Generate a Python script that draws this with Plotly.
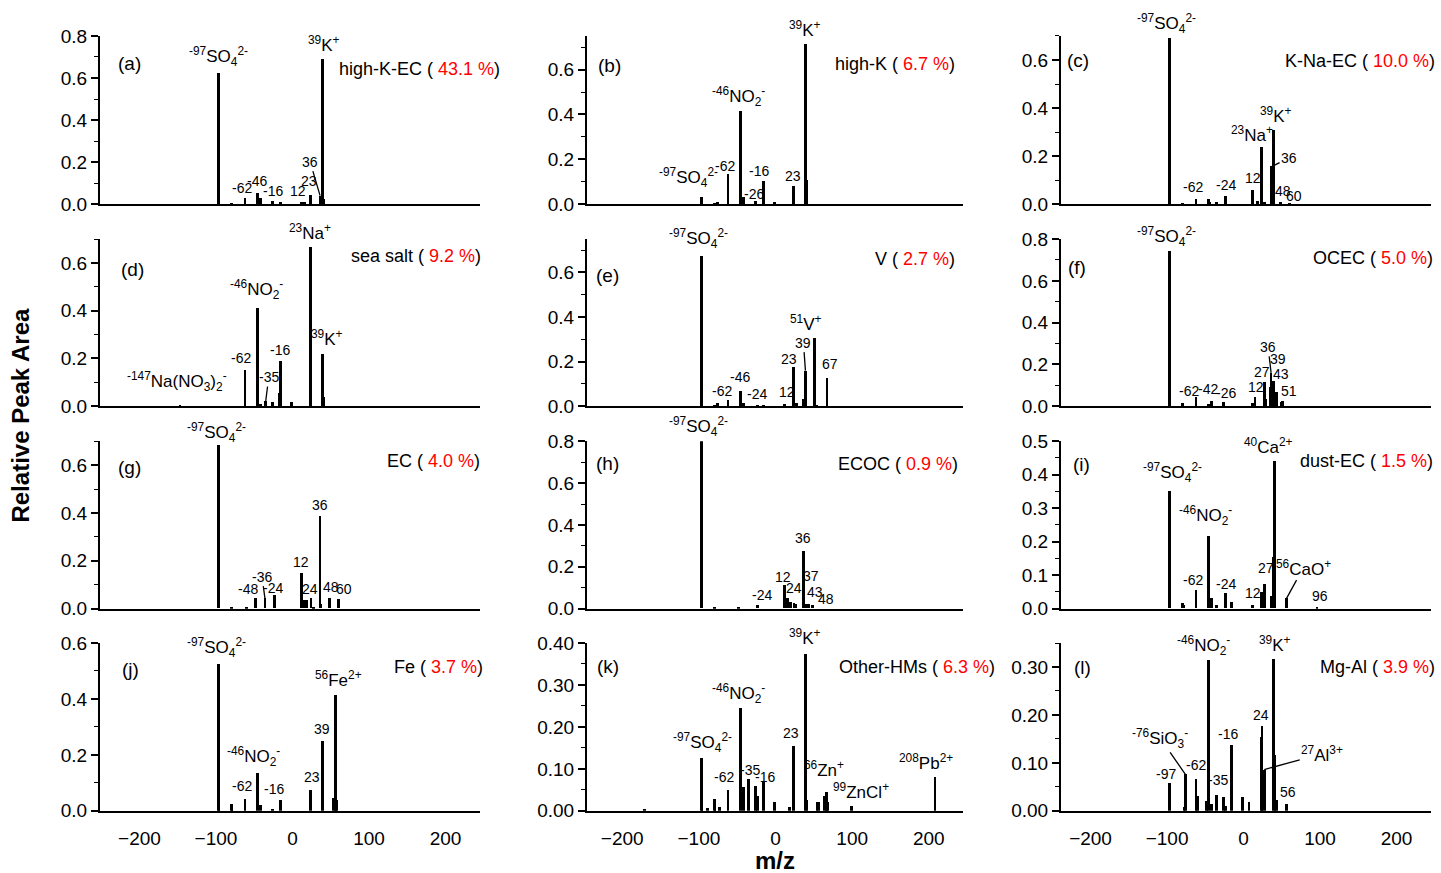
import plotly.graph_objects as go

# ---------------- data (m/z, relative peak area) ----------------
mz_a = [-97, -96, -80, -62, -46, -42, -26, -16, 12, 16, 23, 24, 36, 37, 39, 41]
int_a = [0.626, 0.02, 0.004, 0.027, 0.055, 0.03, 0.016, 0.01, 0.01, 0.012, 0.044, 0.012, 0.04, 0.03, 0.69, 0.025]

mz_b = [-97, -80, -76, -62, -46, -42, -26, -16, -1, 23, 39, 41]
int_b = [0.03, 0.005, 0.008, 0.134, 0.415, 0.03, 0.015, 0.105, 0.01, 0.079, 0.716, 0.107]

mz_c = [-97, -96, -80, -62, -46, -45, -35, -24, 12, 18, 23, 27, 36, 37, 38, 39, 48, 60]
int_c = [0.69, 0.035, 0.006, 0.021, 0.02, 0.01, 0.01, 0.035, 0.06, 0.012, 0.236, 0.01, 0.155, 0.16, 0.14, 0.31, 0.01, 0.005]

mz_d = [-147, -62, -46, -42, -35, -26, -17, -16, -1, 23, 39, 41]
int_d = [0.007, 0.153, 0.41, 0.01, 0.022, 0.017, 0.054, 0.188, 0.017, 0.666, 0.219, 0.04]

mz_e = [-97, -96, -80, -76, -62, -46, -42, -24, -16, 12, 23, 27, 36, 39, 51, 53, 67]
int_e = [0.675, 0.025, 0.007, 0.013, 0.03, 0.067, 0.013, 0.004, 0.005, 0.01, 0.175, 0.013, 0.033, 0.16, 0.306, 0.004, 0.125]

mz_f = [-97, -96, -80, -62, -46, -42, -26, 12, 15, 27, 29, 35, 36, 38, 39, 41, 43, 50, 51]
int_f = [0.744, 0.02, 0.014, 0.046, 0.011, 0.027, 0.019, 0.014, 0.043, 0.115, 0.035, 0.09, 0.16, 0.05, 0.12, 0.03, 0.07, 0.02, 0.025]

mz_g = [-97, -96, -80, -60, -48, -36, -24, 12, 16, 18, 24, 27, 36, 37, 48, 60]
int_g = [0.684, 0.03, 0.003, 0.007, 0.042, 0.042, 0.056, 0.149, 0.035, 0.035, 0.042, 0.008, 0.386, 0.02, 0.045, 0.038]

mz_h = [-97, -96, -80, -48, -24, 12, 16, 20, 24, 26, 36, 37, 39, 43, 48]
int_h = [0.80, 0.035, 0.005, 0.005, 0.015, 0.114, 0.05, 0.03, 0.028, 0.02, 0.276, 0.098, 0.02, 0.02, 0.015]

mz_i = [-97, -80, -78, -62, -46, -42, -35, -24, -16, 12, 23, 24, 27, 36, 39, 40, 41, 56, 96]
int_i = [0.35, 0.017, 0.01, 0.055, 0.217, 0.03, 0.01, 0.045, 0.018, 0.01, 0.05, 0.05, 0.073, 0.037, 0.154, 0.44, 0.01, 0.03, 0.002]

mz_j = [-97, -96, -80, -79, -62, -46, -42, -26, -16, 23, 39, 54, 56, 57]
int_j = [0.526, 0.015, 0.026, 0.02, 0.044, 0.137, 0.02, 0.007, 0.04, 0.076, 0.249, 0.046, 0.413, 0.04]

mz_k = [-171, -97, -96, -89, -80, -79, -73, -62, -46, -42, -35, -26, -24, -16, -1, 18, 23, 39, 41, 54, 56, 64, 66, 68, 99, 208]
int_k = [0.002, 0.127, 0.02, 0.006, 0.029, 0.025, 0.008, 0.05, 0.244, 0.057, 0.075, 0.06, 0.035, 0.071, 0.021, 0.008, 0.154, 0.373, 0.025, 0.02, 0.022, 0.035, 0.045, 0.02, 0.012, 0.081]

mz_l = [-97, -78, -76, -62, -60, -48, -46, -42, -35, -26, -24, -16, -1, 7, 23, 24, 27, 39, 41, 43, 56]
int_l = [0.057, 0.008, 0.076, 0.067, 0.03, 0.02, 0.315, 0.015, 0.033, 0.029, 0.01, 0.137, 0.029, 0.019, 0.155, 0.176, 0.086, 0.317, 0.116, 0.022, 0.014]

panel_letters = ["a", "b", "c", "d", "e", "f", "g", "h", "i", "j", "k", "l"]
class_names = ["high-K-EC", "high-K", "K-Na-EC", "sea salt", "V", "OCEC",
               "EC", "ECOC", "dust-EC", "Fe", "Other-HMs", "Mg-Al"]
class_percent = ["43.1", "6.7", "10.0", "9.2", "2.7", "5.0", "4.0", "0.9", "1.5", "3.7", "6.3", "3.9"]
y_max = [0.8, 0.75, 0.7, 0.7, 0.75, 0.8, 0.7, 0.8, 0.5, 0.6, 0.4, 0.35]
y_major = [0.2, 0.2, 0.2, 0.2, 0.2, 0.2, 0.2, 0.2, 0.1, 0.2, 0.1, 0.1]
y_minor = [0.1, 0.1, 0.1, 0.1, 0.1, 0.1, 0.1, 0.1, 0.05, 0.1, 0.05, 0.05]
y_fmt = [".1f"] * 10 + [".2f"] * 2
x_ticks = [-200, -100, 0, 100, 200]

MZ = [mz_a, mz_b, mz_c, mz_d, mz_e, mz_f, mz_g, mz_h, mz_i, mz_j, mz_k, mz_l]
INT = [int_a, int_b, int_c, int_d, int_e, int_f, int_g, int_h, int_i, int_j, int_k, int_l]

# ---------------- ion label texts ----------------
SO4 = "<sup>-97</sup>SO<sub>4</sub><sup>2-</sup>"
NO2 = "<sup>-46</sup>NO<sub>2</sub><sup>-</sup>"
K = "<sup>39</sup>K<sup>+</sup>"
NA = "<sup>23</sup>Na<sup>+</sup>"

# (m/z, text, dx, dy) plain labels ; (m/z, text, ax, ay, True) leader-line labels
labels = [
    [(-97, SO4, 0, 2), (39, K, 2, 2), (-62, "-62", -3, 0), (-46, "-46", 0, 2), (-16, "-16", -7, 1),
     (12, "12", -4, 1), (23, "23", -1, 4), (36, "36", -10, -34, True)],
    [(-97, SO4, -13, 5), (-62, "-62", -3, -2), (-46, NO2, -2, 0), (-26, "-26", -2, -3), (-16, "-16", -4, 0),
     (23, "23", 0, 0), (39, K, 0, 2)],
    [(-97, SO4, -3, 0), (-62, "-62", -3, 2), (-24, "-24", 1, 1), (12, "12", 0, 2), (23, NA, -9, 0),
     (39, K, 3, 2), (36, "36", 18, -9, True), (48, "48", 3, 1), (60, "60", 5, -3)],
    [(-147, "<sup>-147</sup>Na(NO<sub>3</sub>)<sub>2</sub><sup>-</sup>", -3, 9), (-62, "-62", -4, 2),
     (-46, NO2, -1, 4), (-35, "-35", 3, -24, True), (-16, "-16", 0, 1), (23, NA, 0, 2), (39, K, 5, 3)],
    [(-97, SO4, -3, 3), (-62, "-62", -6, -1), (-46, "-46", 0, 4), (-24, "-24", 0, 1), (12, "12", 2, 2),
     (23, "23", -4, -2), (39, "39", -2, -28, True), (51, "<sup>51</sup>V<sup>+</sup>", -9, 2), (67, "67", 3, 4)],
    [(-97, SO4, -3, 0), (-62, "-62", -7, -4), (-42, "-42", -3, 2), (-26, "-26", 2, -1), (12, "12", 3, 6),
     (27, "27", -2, 0), (36, "36", -3, -26, True), (39, "39", 5, 12), (43, "43", 5, 8), (51, "51", 6, 0)],
    [(-97, SO4, -2, -2), (-48, "-48", -8, 0), (-36, "-36", -3, -22, True), (-24, "-24", -1, -3),
     (12, "12", -1, 1), (24, "24", -1, 0), (36, "36", 0, 1), (48, "48", 2, 1), (60, "60", 6, 1)],
    [(-97, SO4, -3, 0), (-24, "-24", 5, 1), (12, "12", -2, -2), (24, "24", 0, 5), (36, "36", 0, 3),
     (37, "37", 7, 2), (43, "43", 7, 2), (48, "48", 14, -3)],
    [(-97, SO4, 3, 4), (-46, NO2, -3, 6), (-62, "-62", -3, 0), (-24, "-24", 1, 0), (12, "12", 0, 2),
     (27, "27", 2, 6), (40, "<sup>40</sup>Ca<sup>2+</sup>", -6, 2),
     (56, "<sup>56</sup>CaO<sup>+</sup>", 17, -31, True), (96, "96", 3, 2)],
    [(-97, SO4, -2, 2), (-46, NO2, -4, 2), (-62, "-62", -3, 3), (-16, "-16", -6, 1), (23, "23", 2, 3),
     (39, "39", 0, 2), (56, "<sup>56</sup>Fe<sup>2+</sup>", 3, 3)],
    [(-97, SO4, 1, 1), (-46, NO2, -2, 0), (-62, "-62", -4, 3), (-35, "-35", 1, -1), (-16, "-16", 2, -6),
     (23, "23", -2, 3), (39, K, 0, 4), (66, "<sup>66</sup>Zn<sup>+</sup>", -2, 10),
     (99, "<sup>99</sup>ZnCl<sup>+</sup>", 10, 2), (208, "<sup>208</sup>Pb<sup>2+</sup>", -9, 2)],
    [(-97, "-97", -3, 0), (-76, "<sup>-76</sup>SiO<sub>3</sub><sup>-</sup>", -25, -36, True),
     (-62, "-62", 0, 4), (-46, NO2, -5, 0), (-35, "-35", 1, 5), (-16, "-16", -3, 1), (24, "24", -1, 1),
     (39, K, 2, 2), (27, "<sup>27</sup>Al<sup>3+</sup>", 58, -16, True), (56, "56", 2, 2)],
]

# ---------------- geometry (pixels in a 1441 x 873 canvas) ----------------
W, H = 1441, 873


def vy(y):
    # vertical pixel position -> compensated layout pixel
    return (y - 9.0) / 0.977


col_px = [(100, 480), (587, 963), (1061, 1431)]
col_range = [(-251.6, 245), (-246, 244.6), (-238.6, 245)]
row_px = [(35, 203.3), (238.3, 405.7), (440.7, 608.3), (642.7, 810.7)]
letter_px = [(129, 62.5), (609, 65), (1078, 60), (132, 269), (607.5, 275), (1077, 267),
             (129, 467), (607.5, 463), (1081, 464), (130, 669), (607.5, 666), (1082, 667)]
pct_px = [(502, 68), (957, 63), (1437, 60), (483, 255), (957, 258), (1435, 257),
          (482, 460), (960, 463), (1435, 460), (485, 667), (997, 667), (1437, 667)]

FONT = "Arial, Liberation Sans, sans-serif"

fig = go.Figure()
layout = {}
annotations = []

for i in range(12):
    r, c = divmod(i, 3)
    n = "" if i == 0 else str(i + 1)
    xa, ya = "x" + n, "y" + n
    fig.add_trace(go.Bar(x=MZ[i], y=INT[i], xaxis=xa, yaxis=ya, width=3.6,
                         marker=dict(color="black", line=dict(width=0)),
                         showlegend=False, hoverinfo="x+y"))
    x0, x1 = col_px[c]
    y0, y1 = row_px[r]
    layout["xaxis" + n] = dict(
        domain=[x0 / W, x1 / W], anchor=ya, range=list(col_range[c]),
        showline=True, linecolor="black", linewidth=2, showgrid=False, zeroline=False,
        tickvals=x_ticks, showticklabels=(r == 3), ticks="outside", ticklen=9,
        tickcolor="rgba(0,0,0,0)", tickfont=dict(size=19, color="black", family=FONT))
    layout["yaxis" + n] = dict(
        domain=[1 - vy(y1) / H, 1 - vy(y0) / H], anchor=xa, range=[0, y_max[i]],
        showline=True, linecolor="black", linewidth=2, showgrid=False, zeroline=False,
        tick0=0, dtick=y_major[i], tickformat=y_fmt[i], ticks="outside", ticklen=7,
        tickwidth=1.5, tickcolor="black",
        minor=dict(dtick=y_minor[i], tick0=0, ticks="outside", ticklen=4, tickwidth=1.2,
                   tickcolor="black", showgrid=False),
        tickfont=dict(size=19, color="black", family=FONT))

    # peak labels
    for spec in labels[i]:
        mz, text = spec[0], spec[1]
        val = INT[i][MZ[i].index(mz)]
        size = 17 if "<" in text else 14
        if len(spec) == 5:
            annotations.append(dict(x=mz, y=val, xref=xa, yref=ya, text=text, showarrow=True,
                                    ax=spec[2], ay=spec[3], arrowhead=0, arrowwidth=1.3,
                                    arrowcolor="black", standoff=0,
                                    font=dict(size=size, color="black", family=FONT)))
        else:
            annotations.append(dict(x=mz, y=val, xref=xa, yref=ya, text=text, showarrow=False,
                                    xanchor="center", yanchor="bottom", xshift=spec[2], yshift=spec[3],
                                    font=dict(size=size, color="black", family=FONT)))

    # panel letter
    lx, ly = letter_px[i]
    annotations.append(dict(x=lx / W, y=1 - vy(ly) / H, xref="paper", yref="paper",
                            text="(" + panel_letters[i] + ")", showarrow=False,
                            xanchor="center", yanchor="middle",
                            font=dict(size=19, color="black", family=FONT)))
    # class name and percentage
    px, py = pct_px[i]
    annotations.append(dict(x=px / W, y=1 - vy(py) / H, xref="paper", yref="paper",
                            text=class_names[i] + " ( <span style='color:#ff0000'>" + class_percent[i] + " %</span>)",
                            showarrow=False, xanchor="right", yanchor="middle",
                            font=dict(size=18, color="black", family=FONT)))

annotations.append(dict(x=21 / W, y=1 - vy(415) / H, xref="paper", yref="paper",
                        text="<b>Relative Peak Area</b>", textangle=-90, showarrow=False,
                        xanchor="center", yanchor="middle",
                        font=dict(size=24, color="black", family=FONT)))
annotations.append(dict(x=775 / W, y=1 - vy(860) / H, xref="paper", yref="paper",
                        text="<b>m/z</b>", showarrow=False, xanchor="center", yanchor="middle",
                        font=dict(size=24, color="black", family=FONT)))

fig.update_layout(width=W, height=H, margin=dict(l=0, r=0, t=0, b=0),
                  paper_bgcolor="white", plot_bgcolor="white", bargap=0,
                  font=dict(family=FONT, color="black"), annotations=annotations, **layout)

fig.write_html("out.html")
